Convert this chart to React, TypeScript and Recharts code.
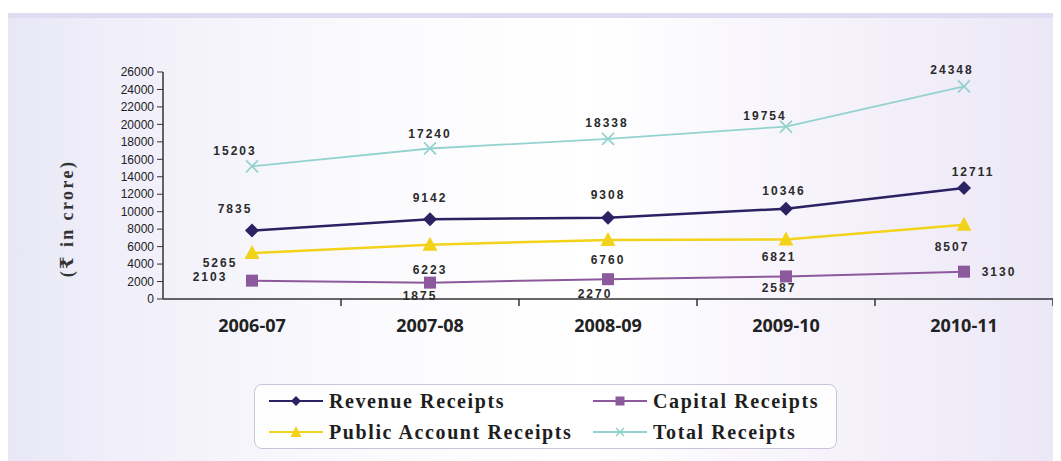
import { LineChart, Line, XAxis, YAxis, Legend, LabelList } from "recharts";

const years = ["2006-07", "2007-08", "2008-09", "2009-10", "2010-11"];
const revenueReceipts = [7835, 9142, 9308, 10346, 12711];
const capitalReceipts = [2103, 1875, 2270, 2587, 3130];
const publicAccountReceipts = [5265, 6223, 6760, 6821, 8507];
const totalReceipts = [15203, 17240, 18338, 19754, 24348];
const yTicks = [0, 2000, 4000, 6000, 8000, 10000, 12000, 14000, 16000, 18000, 20000, 22000, 24000, 26000];

// label offsets from each point (label centre)
const revenueLabelOffsets = [[-17, -22], [0, -21], [0, -23], [-2, -18], [9, -16]];
const capitalLabelOffsets = [[-42, -4], [-10, 13], [-13, 15], [-7, 12], [35, 0]];
const publicLabelOffsets = [[-32, 10], [0, 25], [0, 20], [-7, 18], [-12, 22]];
const totalLabelOffsets = [[-17, -15], [0, -14], [-1, -16], [-21, -11], [-12, -16]];

const COLORS = {
  revenue: "#2a2262",
  capital: "#8c5a9c",
  public: "#f2d31a",
  total: "#93d3cf",
};

const data = years.map((year, i) => ({
  year,
  revenue: revenueReceipts[i],
  capital: capitalReceipts[i],
  public: publicAccountReceipts[i],
  total: totalReceipts[i],
}));

const DiamondDot = ({ cx, cy }: any) => (
  <path d={`M${cx},${cy - 7}L${cx + 7},${cy}L${cx},${cy + 7}L${cx - 7},${cy}Z`} fill={COLORS.revenue} />
);
const SquareDot = ({ cx, cy }: any) => (
  <rect x={cx - 6} y={cy - 6} width={12} height={12} fill={COLORS.capital} />
);
const TriangleDot = ({ cx, cy }: any) => (
  <path d={`M${cx},${cy - 8}L${cx + 7.5},${cy + 6}L${cx - 7.5},${cy + 6}Z`} fill={COLORS.public} />
);
const CrossDot = ({ cx, cy }: any) => (
  <path
    d={`M${cx - 6},${cy - 6}L${cx + 6},${cy + 6}M${cx + 6},${cy - 6}L${cx - 6},${cy + 6}`}
    stroke={COLORS.total}
    strokeWidth={1.8}
    fill="none"
  />
);

const makeLabel = (offsets: number[][]) => (props: any) => {
  const { x, y, value, index } = props;
  const [dx, dy] = offsets[index] || [0, -14];
  return (
    <text
      x={x + dx}
      y={y + dy}
      textAnchor="middle"
      dominantBaseline="central"
      fontFamily="'Liberation Sans', Arial, sans-serif"
      fontWeight="bold"
      fontSize={12}
      letterSpacing={2}
      fill="#2a2a2a"
    >
      {value}
    </text>
  );
};

const XTick = ({ x, y, payload }: any) => (
  <g>
    <line x1={x + payload.offset} y1={y - 8} x2={x + payload.offset} y2={y - 1} stroke="#333" strokeWidth={1.5} />
    <text
      x={x}
      y={y + 25}
      textAnchor="middle"
      fontFamily="'Open Sans', sans-serif"
      fontWeight="bold"
      fontSize={18}
      fill="#222"
    >
      {payload.value}
    </text>
  </g>
);

const YLabel = ({ viewBox }: any) => {
  const cx = viewBox.x + 4;
  const cy = viewBox.y + viewBox.height / 2 + 33;
  return (
    <text
      x={cx}
      y={cy}
      transform={`rotate(-90 ${cx} ${cy})`}
      textAnchor="middle"
      dominantBaseline="central"
      fontFamily="'Liberation Serif', 'DejaVu Serif', serif"
      fontWeight="bold"
      fontSize={18}
      letterSpacing={2.4}
      fill="#333"
    >
      (₹ in crore)
    </text>
  );
};

const legendItems = [
  { name: "Revenue Receipts", key: "revenue" },
  { name: "Capital Receipts", key: "capital" },
  { name: "Public Account Receipts", key: "public" },
  { name: "Total Receipts", key: "total" },
];

const Swatch = ({ k }: { k: string }) => {
  const c = (COLORS as any)[k];
  return (
    <svg width={54} height={14} style={{ marginRight: 6, flex: "none" }}>
      <line x1={0} y1={7} x2={54} y2={7} stroke={c} strokeWidth={2} />
      {k === "revenue" && <path d="M27,2L32,7L27,12L22,7Z" fill={c} />}
      {k === "capital" && <rect x={22.5} y={2.5} width={9} height={9} fill={c} />}
      {k === "public" && <path d="M27,1L32.5,12L21.5,12Z" fill={c} />}
      {k === "total" && <path d="M23,3L31,11M31,3L23,11" stroke={c} strokeWidth={1.5} />}
    </svg>
  );
};

const LegendBox = () => (
  <div
    style={{
      width: 583,
      height: 65,
      boxSizing: "border-box",
      border: "1.5px solid #c7c4dc",
      borderRadius: 8,
      background: "rgba(255,255,255,0.85)",
      display: "grid",
      gridTemplateColumns: "324px 250px",
      alignContent: "center",
      rowGap: 4,
      paddingLeft: 14,
      fontFamily: "'Liberation Serif', 'Times New Roman', serif",
      fontWeight: "bold",
      fontSize: 20,
      letterSpacing: 1.6,
      color: "#1e1e1e",
    }}
  >
    {legendItems.map((it) => (
      <div key={it.key} style={{ display: "flex", alignItems: "center", whiteSpace: "nowrap", height: 27 }}>
        <Swatch k={it.key} />
        <span>{it.name}</span>
      </div>
    ))}
  </div>
);

export default function App() {
  return (
    <div style={{ position: "relative", width: 1061, height: 461, margin: "-8px 0 0 -8px", background: "#fff", overflow: "hidden" }}>
      <div
        style={{
          position: "absolute",
          left: 8,
          top: 13,
          right: 0,
          bottom: 0,
          borderTop: "5px solid #dfdcf2",
          background:
            "linear-gradient(90deg, #e8e7f6 0%, #f1f0fa 12%, #fbfbfe 35%, #ffffff 55%, #f7f4fc 75%, #ebe7f6 100%)",
        }}
      />
      <div style={{ position: "absolute", left: 0, top: 0 }}>
        <LineChart width={1061} height={461} data={data} margin={{ top: 72, right: 8, bottom: 122, left: 63 }}>
          <XAxis
            dataKey="year"
            scale="band"
            height={40}
            axisLine={{ stroke: "#333", strokeWidth: 1.5 }}
            tickLine={false}
            tick={<XTick />}
            interval={0}
          />
          <YAxis
            width={100}
            domain={[0, 26000]}
            ticks={yTicks}
            interval={0}
            axisLine={{ stroke: "#333", strokeWidth: 1.5 }}
            tickLine={{ stroke: "#333" }}
            tickSize={6}
            tickMargin={3}
            tick={{ fontFamily: "'Liberation Sans', Arial, sans-serif", fontSize: 12, fill: "#222" }}
            label={<YLabel />}
          />
          <Legend
            layout="horizontal"
            verticalAlign="middle"
            align="center"
            wrapperStyle={{ position: "absolute", left: 254, top: 384, width: 583 }}
            content={() => <LegendBox />}
          />
          <Line
            dataKey="total"
            stroke={COLORS.total}
            strokeWidth={1.8}
            dot={<CrossDot />}
            activeDot={false}
            isAnimationActive={false}
          >
            <LabelList dataKey="total" content={makeLabel(totalLabelOffsets)} />
          </Line>
          <Line
            dataKey="public"
            stroke={COLORS.public}
            strokeWidth={2.5}
            dot={<TriangleDot />}
            activeDot={false}
            isAnimationActive={false}
          >
            <LabelList dataKey="public" content={makeLabel(publicLabelOffsets)} />
          </Line>
          <Line
            dataKey="capital"
            stroke={COLORS.capital}
            strokeWidth={2}
            dot={<SquareDot />}
            activeDot={false}
            isAnimationActive={false}
          >
            <LabelList dataKey="capital" content={makeLabel(capitalLabelOffsets)} />
          </Line>
          <Line
            dataKey="revenue"
            stroke={COLORS.revenue}
            strokeWidth={2.5}
            dot={<DiamondDot />}
            activeDot={false}
            isAnimationActive={false}
          >
            <LabelList dataKey="revenue" content={makeLabel(revenueLabelOffsets)} />
          </Line>
        </LineChart>
      </div>
    </div>
  );
}
